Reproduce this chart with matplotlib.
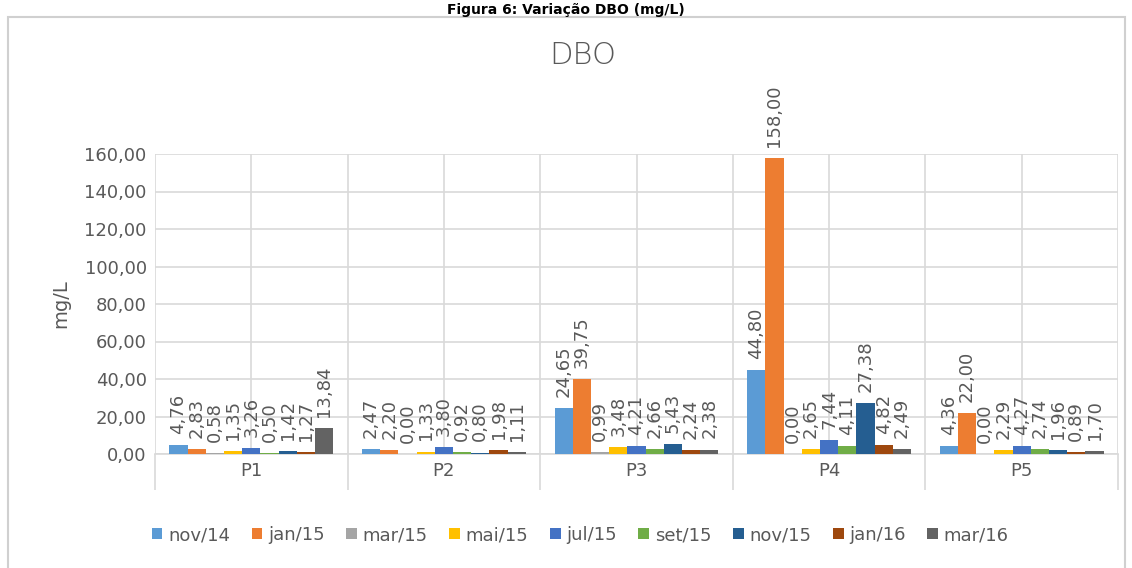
import numpy as np
import matplotlib.pyplot as plt
from matplotlib.patches import Rectangle
from matplotlib.ticker import FuncFormatter

# Data
points = ["P1", "P2", "P3", "P4", "P5"]
months = ["nov/14", "jan/15", "mar/15", "mai/15", "jul/15",
          "set/15", "nov/15", "jan/16", "mar/16"]
nov14 = [4.76, 2.47, 24.65, 44.80, 4.36]
jan15 = [2.83, 2.20, 39.75, 158.00, 22.00]
mar15 = [0.58, 0.00, 0.99, 0.00, 0.00]
mai15 = [1.35, 1.33, 3.48, 2.65, 2.29]
jul15 = [3.26, 3.80, 4.21, 7.44, 4.27]
set15 = [0.50, 0.92, 2.66, 4.11, 2.74]
nov15 = [1.42, 0.80, 5.43, 27.38, 1.96]
jan16 = [1.27, 1.98, 2.24, 4.82, 0.89]
mar16 = [13.84, 1.11, 2.38, 2.49, 1.70]
series = [nov14, jan15, mar15, mai15, jul15, set15, nov15, jan16, mar16]
colors = ["#5B9BD5", "#ED7D31", "#A5A5A5", "#FFC000", "#4472C4",
          "#70AD47", "#255E91", "#9E480E", "#636363"]

txt = "#595959"
grid_c = "#D9D9D9"

fig = plt.figure(figsize=(11.32, 5.68), dpi=100)

# outer chart border
fig.patches.append(Rectangle((8 / 1132, -0.01), 1117 / 1132, 1 - 17 / 568 + 0.01,
                             transform=fig.transFigure, fill=False,
                             edgecolor="#D0D0D0", linewidth=1.5))
fig.text(0.5, 0.995, "Figura 6: Variação DBO (mg/L)", ha="center", va="top",
         fontsize=10, fontweight="bold")

ax = fig.add_axes([155 / 1132, 1 - 454 / 568, 963 / 1132, 300 / 568])

x = np.arange(len(points))
w = 0.0945
n = len(series)
for i, (vals, c, lab) in enumerate(zip(series, colors, months)):
    xs = x + (i - (n - 1) / 2) * w
    ax.bar(xs, vals, width=w, color=c, label=lab, zorder=3)
    for xx, v in zip(xs, vals):
        ax.annotate(f"{v:.2f}".replace(".", ","), (xx, v), xytext=(0, 8),
                    textcoords="offset points", rotation=90, ha="center",
                    va="bottom", fontsize=13, color=txt, zorder=4)

ax.set_xlim(-0.5, 4.5)
ax.set_ylim(0, 160)
ax.set_yticks(np.arange(0, 161, 20))
ax.yaxis.set_major_formatter(FuncFormatter(lambda v, p: f"{v:.2f}".replace(".", ",")))
ax.grid(axis="y", color=grid_c, linewidth=1.2, zorder=0)

# vertical lines at category centres and boundaries
for b in np.arange(-0.5, 4.6, 0.5):
    ax.axvline(b, color=grid_c, linewidth=1.2, zorder=0)

ax.set_xticks(np.arange(-0.5, 4.6, 1.0))
ax.set_xticklabels([])
ax.set_xticks(x, minor=True)
ax.set_xticklabels(points, minor=True)
ax.tick_params(axis="x", which="major", length=26, color=grid_c, width=1.2)
ax.tick_params(axis="x", which="minor", length=0, pad=6, labelsize=13, labelcolor=txt)
ax.tick_params(axis="y", length=0, labelsize=13, labelcolor=txt, pad=6)

for s in ["top", "right", "left"]:
    ax.spines[s].set_visible(False)
ax.spines["bottom"].set_color(grid_c)
ax.spines["bottom"].set_linewidth(1.2)

ax.set_ylabel("mg/L", fontsize=14, color=txt, labelpad=10)
fig.text(583 / 1132, 1 - 55 / 568, "DBO", ha="center", va="center",
         fontsize=22, color=txt, fontweight="light")

fig.legend(loc="center", bbox_to_anchor=(580 / 1132, 1 - 535 / 568), ncol=9,
           frameon=False, fontsize=13, labelcolor=txt, handlelength=0.6,
           handleheight=0.6, handletextpad=0.3, columnspacing=1.2)

fig.savefig("out.png", dpi=100)
